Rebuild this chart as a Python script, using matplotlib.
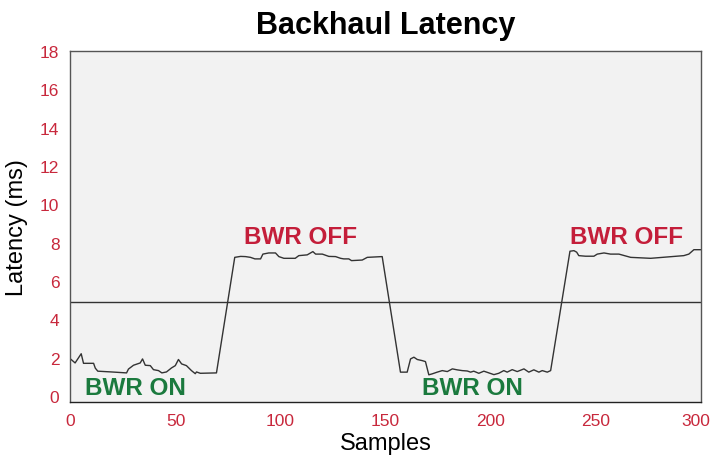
import numpy as np
import matplotlib
matplotlib.use("Agg")
from matplotlib import pyplot as plt
from matplotlib.transforms import ScaledTranslation

# Muestras y latencia
muestras = [0.3, 2.2, 5.1, 6.2, 11, 11.8, 13, 19.5, 26.7, 27.6, 30, 33.2, 34.3, 35.6, 38,
            39.5, 41.9, 43.5, 45.7, 48.1, 49.9, 51.4, 52.9, 55.2, 57.6, 59.4, 60, 61.8, 69.5,
            78.2, 81, 83.3, 85.7, 87.8, 90.5, 91.6, 94.4, 97.6, 99.2, 101.6, 107, 108.7,
            112.7, 115.4, 116.7, 119.9, 123, 126.2, 128.6, 130.1, 132.5, 133.8, 138.9,
            141.3, 148.4,
            157.1, 160.3, 161.9, 163.5, 165.1, 167.5, 169, 170.6, 172.2, 174.6, 177, 179.4,
            181.8, 184.1, 186.5, 188.9, 190.5, 192, 194.4, 196.8, 199.2, 201.6, 203.9,
            206.3, 207.9, 210.3, 212.7, 215.9, 218.2, 220.6, 223, 224.6, 227, 228.6,
            237.8, 239.7, 241, 242, 245.2, 249.2, 250.8, 254, 257.1, 261.1, 266.7, 276.2,
            292, 294.4, 296.8, 300]
latencia = [1.9, 1.72, 2.2, 1.7, 1.7, 1.45, 1.29, 1.25, 1.2, 1.4, 1.6, 1.72, 1.93, 1.6, 1.58,
            1.37, 1.32, 1.2, 1.25, 1.46, 1.58, 1.9, 1.67, 1.58, 1.32, 1.16, 1.25, 1.18, 1.2,
            7.23, 7.28, 7.27, 7.23, 7.15, 7.15, 7.4, 7.46, 7.46, 7.27, 7.18, 7.18, 7.32,
            7.36, 7.53, 7.4, 7.4, 7.28, 7.27, 7.18, 7.15, 7.15, 7.06, 7.09,
            7.23, 7.27,
            1.24, 1.24, 1.93, 2.02, 1.9, 1.84, 1.79, 1.1, 1.15, 1.24, 1.32, 1.27,
            1.41, 1.36, 1.32, 1.3, 1.24, 1.29, 1.18, 1.29, 1.2, 1.11, 1.18,
            1.32, 1.24, 1.37, 1.27, 1.41, 1.24, 1.36, 1.24, 1.32, 1.24, 1.32,
            7.55, 7.58, 7.5, 7.32, 7.29, 7.29, 7.4, 7.46, 7.4, 7.4, 7.23, 7.18,
            7.32, 7.4, 7.63, 7.63]
umbral = 4.9

# Etiquetas de estado
etiquetas = ["BWR ON", "BWR OFF", "BWR ON", "BWR OFF"]
etiq_x = [31, 109.5, 191.5, 264.8]
etiq_y = [0.45, 8.3, 0.45, 8.3]
etiq_color = ["#1b7a3e", "#c41e3a", "#1b7a3e", "#c41e3a"]

rojo = "#c8283c"
plt.rcParams['font.family'] = ['Liberation Sans', 'DejaVu Sans']

fig = plt.figure(figsize=(7.12, 4.56), dpi=100)
ax = fig.add_axes([0.099, 0.117, 0.885, 0.769])
ax.set_facecolor("#f2f2f2")

ax.plot(muestras, latencia, color="#333333", linewidth=1.0)
ax.axhline(umbral, color="#333333", linewidth=1.0)

for t, x, y, c in zip(etiquetas, etiq_x, etiq_y, etiq_color):
    ax.text(x, y, t, color=c, fontsize=17.5, fontweight="bold", ha="center", va="center")

ax.set_xlim(0, 300)
ax.set_ylim(-0.3, 18)
ax.set_xticks(np.arange(0, 301, 50))
ax.set_yticks(np.arange(0, 19, 2))
ax.tick_params(length=0, labelsize=12.5, labelcolor=rojo, pad=8)
for s in ax.spines.values():
    s.set_color("#555555")
    s.set_linewidth(1.0)
ax.spines['bottom'].set_color("#222222")

# el ultimo numero queda un poco a la izquierda para que no se corte
ult = ax.get_xticklabels()[-1]
ult.set_transform(ult.get_transform() + ScaledTranslation(-0.045, 0, fig.dpi_scale_trans))

ax.set_title("Backhaul Latency", fontsize=22, fontweight="bold", pad=13)
ax.set_xlabel("Samples", fontsize=17, labelpad=3)
ax.set_ylabel("Latency (ms)", fontsize=17, labelpad=9)

fig.savefig("out.png", dpi=100)
